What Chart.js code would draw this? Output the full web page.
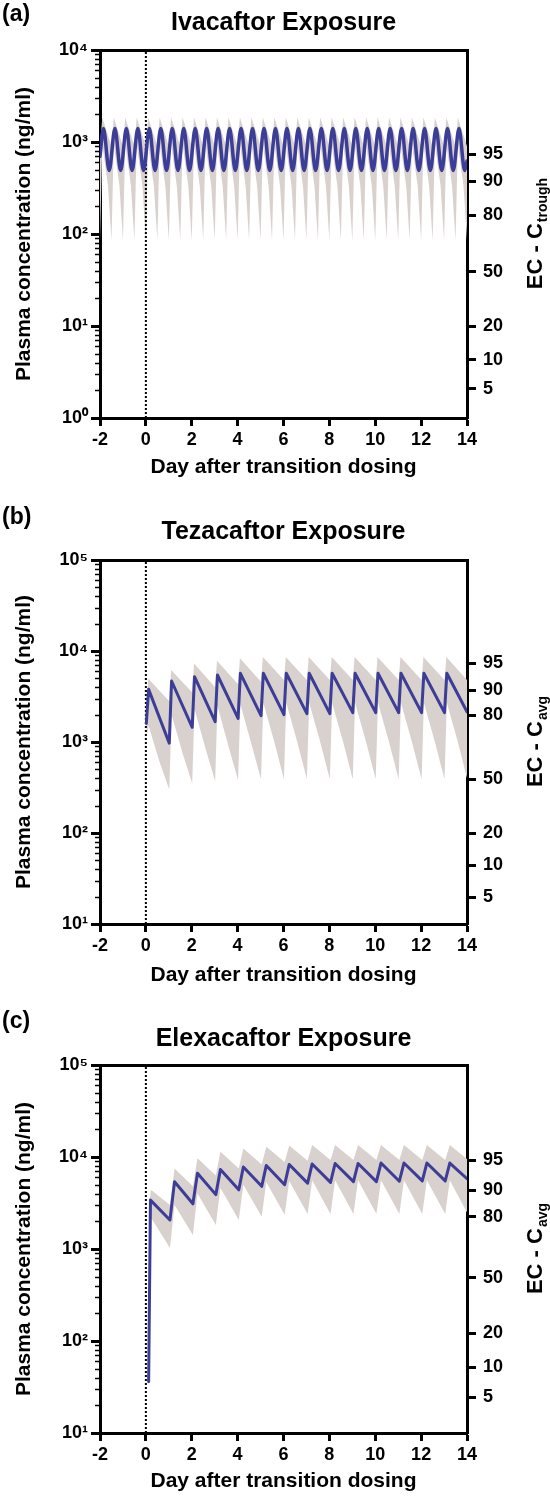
<!DOCTYPE html>
<html>
<head>
<meta charset="utf-8">
<script src="https://cdn.jsdelivr.net/npm/chart.js@4.4.1/dist/chart.umd.min.js"></script>
<style>
  html, body { margin: 0; padding: 0; background: #fff; }
  #page { position: relative; width: 550px; height: 1496px; }
  canvas { position: absolute; left: 0; }
</style>
</head>
<body>
<div id="page">
  <canvas id="chartA" width="550" height="495" style="top:0px"></canvas>
  <canvas id="chartB" width="550" height="500" style="top:495px"></canvas>
  <canvas id="chartC" width="550" height="501" style="top:995px"></canvas>
</div>
<script>
// ---- axis ticks / labels ----
const dayTicks = [-2, 0, 2, 4, 6, 8, 10, 12, 14]
const decadeValues = [1, 10, 100, 1000, 10000, 100000]
const decadeLabels = ['10⁰', '10¹', '10²', '10³', '10⁴', '10⁵']
const ecLabels = ['95', '90', '80', '50', '20', '10', '5']
// concentration level that each EC percentile label sits on
const ivaEcLevels = [736, 373, 159, 39, 10, 4.3, 2.07]
const tezEcLevels = [7380, 3726, 1980, 392, 100, 44, 19.8]
const elxEcLevels = [9270, 4375, 2228, 484, 122, 52, 24.6]

// ---- Ivacaftor (q12h) : [day, ng/ml] ----
const ivaMedian = [
  [-2,700],[-1.85,1400],[-1.6,490],[-1.35,1400],[-1.1,490],[-0.85,1400],[-0.6,490],[-0.35,1400],[-0.1,490],
  [0.15,1400],[0.4,490],[0.65,1400],[0.9,490],[1.15,1400],[1.4,490],[1.65,1400],[1.9,490],
  [2.15,1400],[2.4,490],[2.65,1400],[2.9,490],[3.15,1400],[3.4,490],[3.65,1400],[3.9,490],
  [4.15,1400],[4.4,490],[4.65,1400],[4.9,490],[5.15,1400],[5.4,490],[5.65,1400],[5.9,490],
  [6.15,1400],[6.4,490],[6.65,1400],[6.9,490],[7.15,1400],[7.4,490],[7.65,1400],[7.9,490],
  [8.15,1400],[8.4,490],[8.65,1400],[8.9,490],[9.15,1400],[9.4,490],[9.65,1400],[9.9,490],
  [10.15,1400],[10.4,490],[10.65,1400],[10.9,490],[11.15,1400],[11.4,490],[11.65,1400],[11.9,490],
  [12.15,1400],[12.4,490],[12.65,1400],[12.9,490],[13.15,1400],[13.4,490],[13.65,1400],[13.9,490],[14,620]
]
const ivaUpper = [
  [-2,900],[-1.9,1850],[-1.5,900],[-1.4,1850],[-1,900],[-0.9,1850],[-0.5,900],[-0.4,1850],
  [0,900],[0.1,1850],[0.5,900],[0.6,1850],[1,900],[1.1,1850],[1.5,900],[1.6,1850],
  [2,900],[2.1,1850],[2.5,900],[2.6,1850],[3,900],[3.1,1850],[3.5,900],[3.6,1850],
  [4,900],[4.1,1850],[4.5,900],[4.6,1850],[5,900],[5.1,1850],[5.5,900],[5.6,1850],
  [6,900],[6.1,1850],[6.5,900],[6.6,1850],[7,900],[7.1,1850],[7.5,900],[7.6,1850],
  [8,900],[8.1,1850],[8.5,900],[8.6,1850],[9,900],[9.1,1850],[9.5,900],[9.6,1850],
  [10,900],[10.1,1850],[10.5,900],[10.6,1850],[11,900],[11.1,1850],[11.5,900],[11.6,1850],
  [12,900],[12.1,1850],[12.5,900],[12.6,1850],[13,900],[13.1,1850],[13.5,900],[13.6,1850],[14,900]
]
const ivaLower = [
  [-2,85],[-1.9,950],[-1.65,330],[-1.5,85],[-1.4,950],[-1.15,330],[-1,85],[-0.9,950],[-0.65,330],[-0.5,85],[-0.4,950],[-0.15,330],
  [0,85],[0.1,950],[0.35,330],[0.5,85],[0.6,950],[0.85,330],[1,85],[1.1,950],[1.35,330],[1.5,85],[1.6,950],[1.85,330],
  [2,85],[2.1,950],[2.35,330],[2.5,85],[2.6,950],[2.85,330],[3,85],[3.1,950],[3.35,330],[3.5,85],[3.6,950],[3.85,330],
  [4,85],[4.1,950],[4.35,330],[4.5,85],[4.6,950],[4.85,330],[5,85],[5.1,950],[5.35,330],[5.5,85],[5.6,950],[5.85,330],
  [6,85],[6.1,950],[6.35,330],[6.5,85],[6.6,950],[6.85,330],[7,85],[7.1,950],[7.35,330],[7.5,85],[7.6,950],[7.85,330],
  [8,85],[8.1,950],[8.35,330],[8.5,85],[8.6,950],[8.85,330],[9,85],[9.1,950],[9.35,330],[9.5,85],[9.6,950],[9.85,330],
  [10,85],[10.1,950],[10.35,330],[10.5,85],[10.6,950],[10.85,330],[11,85],[11.1,950],[11.35,330],[11.5,85],[11.6,950],[11.85,330],
  [12,85],[12.1,950],[12.35,330],[12.5,85],[12.6,950],[12.85,330],[13,85],[13.1,950],[13.35,330],[13.5,85],[13.6,950],[13.85,330],
  [14,85]
]

// ---- Tezacaftor (q24h from day 0) ----
const tezMedian = [
  [0.02,1600],[0.12,3790],[1.02,970],[1.12,4680],[2.02,1450],[2.12,5220],[3.02,1670],[3.12,5450],
  [4.02,1820],[4.12,5690],[5.02,1950],[5.12,5700],[6.02,2000],[6.12,5700],[7.02,2050],[7.12,5700],
  [8.02,2050],[8.12,5700],[9.02,2100],[9.12,5700],[10.02,2100],[10.12,5700],[11.02,2100],[11.12,5700],
  [12.02,2100],[12.12,5700],[13.02,2100],[13.12,5700],[14,2150]
]
const tezUpper = [
  [0.02,2600],[0.1,5000],[1.02,2800],[1.1,6200],[2.02,3500],[2.1,7300],[3.02,4000],[3.1,7800],
  [4.02,4300],[4.1,8300],[5.02,4600],[5.1,8600],[6.02,4800],[6.1,8600],[7.02,4800],[7.1,8600],
  [8.02,4800],[8.1,8600],[9.02,4800],[9.1,8600],[10.02,4800],[10.1,8600],[11.02,4800],[11.1,8600],
  [12.02,4800],[12.1,8600],[13.02,4800],[13.1,8600],[14,4800]
]
const tezLower = [
  [0.02,1100],[0.12,1500],[0.6,600],[1.02,300],[1.12,2000],[1.6,750],[2.02,350],[2.12,2300],[2.6,850],
  [3.02,370],[3.12,2500],[3.6,900],[4.02,380],[4.12,2600],[4.6,950],[5.02,390],[5.12,2700],[5.6,1000],
  [6.02,390],[6.12,2700],[6.6,1000],[7.02,390],[7.12,2700],[7.6,1000],[8.02,390],[8.12,2700],[8.6,1000],
  [9.02,390],[9.12,2700],[9.6,1000],[10.02,390],[10.12,2700],[10.6,1000],[11.02,390],[11.12,2700],[11.6,1000],
  [12.02,390],[12.12,2700],[12.6,1000],[13.02,390],[13.12,2700],[13.6,1000],[14,400]
]

// ---- Elexacaftor (q24h from day 0) ----
const elxMedian = [
  [0.12,36],[0.2,3400],[1.05,2070],[1.25,5390],[2.05,3100],[2.25,6650],[3.05,3900],[3.25,7300],
  [4.05,4400],[4.25,7800],[5.05,4800],[5.25,8100],[6.05,5000],[6.25,8300],[7.05,5200],[7.25,8400],
  [8.05,5300],[8.25,8500],[9.05,5400],[9.25,8500],[10.05,5400],[10.25,8600],[11.05,5450],[11.25,8600],
  [12.05,5500],[12.25,8600],[13.05,5500],[13.25,8600],[14,5800]
]
const elxUpper = [
  [0.12,2600],[0.22,4400],[1.05,3000],[1.25,7500],[2.05,4800],[2.25,9700],[3.05,6300],[3.25,11400],
  [4.05,7500],[4.25,12400],[5.05,8300],[5.25,12900],[6.05,8800],[6.25,13300],[7.05,9100],[7.25,13500],
  [8.05,9300],[8.25,13500],[9.05,9300],[9.25,13500],[10.05,9300],[10.25,13500],[11.05,9300],[11.25,13500],
  [12.05,9300],[12.25,13500],[13.05,9300],[13.25,13500],[14,9500]
]
const elxLower = [
  [0.12,1500],[0.22,2200],[1.05,1025],[1.25,3000],[2.05,1420],[2.25,4000],[3.05,1820],[3.25,4600],
  [4.05,2070],[4.25,5000],[5.05,2240],[5.25,5300],[6.05,2350],[6.25,5500],[7.05,2400],[7.25,5600],
  [8.05,2400],[8.25,5600],[9.05,2400],[9.25,5600],[10.05,2400],[10.25,5600],[11.05,2400],[11.25,5600],
  [12.05,2400],[12.25,5600],[13.05,2400],[13.25,5600],[14,2500]
]

const BLUE = '#3b3d97'
const BAND = '#d9d1ce'
const FONT = '"Liberation Sans", Arial, Helvetica, sans-serif'

Chart.defaults.font.family = FONT
Chart.defaults.font.weight = 'bold'
Chart.defaults.color = '#000'

// panel letter, short minor ticks on the left axis, and the right axis title (needs a subscript)
const panelText = {
  id: 'panelText',
  afterDraw(chart, args, opts) {
    const { ctx, chartArea } = chart
    const y = chart.scales.y
    ctx.save()
    ctx.strokeStyle = '#000'
    ctx.lineWidth = 1.5
    y.ticks.forEach(t => {
      if (decadeValues.includes(t.value)) return
      const py = Math.round(y.getPixelForValue(t.value)) + 0.5
      ctx.beginPath()
      ctx.moveTo(chartArea.left, py)
      ctx.lineTo(chartArea.left - 5, py)
      ctx.stroke()
    })

    ctx.fillStyle = '#000'
    ctx.textBaseline = 'middle'
    ctx.textAlign = 'left'
    ctx.font = 'bold 23px ' + FONT
    ctx.fillText(opts.tag, 2, opts.tagY)

    const cy = (chartArea.top + chartArea.bottom) / 2
    ctx.translate(536, cy)
    ctx.rotate(-Math.PI / 2)
    ctx.font = 'bold 22px ' + FONT
    const w1 = ctx.measureText('EC - C').width
    ctx.font = 'bold 14px ' + FONT
    const w2 = ctx.measureText(opts.sub).width
    const x0 = -(w1 + w2) / 2
    ctx.font = 'bold 22px ' + FONT
    ctx.fillText('EC - C', x0, 0)
    ctx.font = 'bold 14px ' + FONT
    ctx.fillText(opts.sub, x0 + w1 + 1, 7)
    ctx.restore()
  }
}

function logTicks(min, max) {
  const out = []
  for (let base = min; base < max; base *= 10)
    for (let m = 1; m < 10; m++) out.push({ value: m * base })
  out.push({ value: max })
  return out
}

const axisBorder = { color: '#000', width: 3 }

function buildChart(id, p) {
  return new Chart(document.getElementById(id), {
    type: 'line',
    data: {
      datasets: [
        { data: p.upper, fill: '+1', backgroundColor: BAND, borderColor: 'rgba(0,0,0,0)', borderWidth: 1, pointRadius: 0, order: 3 },
        { data: p.lower, fill: false, borderColor: 'rgba(0,0,0,0)', borderWidth: 1, pointRadius: 0, order: 3 },
        { data: [[0, p.yMin], [0, p.yMax]], borderColor: '#000', borderWidth: 2, borderDash: [2, 2], pointRadius: 0, order: 2 },
        { data: p.median, borderColor: BLUE, borderWidth: p.lineWidth, pointRadius: 0, order: 1,
          cubicInterpolationMode: p.smooth ? 'monotone' : 'default', borderJoinStyle: 'round', borderCapStyle: 'round' }
      ]
    },
    options: {
      responsive: false,
      animation: false,
      devicePixelRatio: 1,
      layout: { padding: 0 },
      plugins: {
        legend: { display: false },
        tooltip: { enabled: false },
        title: {
          display: true, text: p.title, fullSize: false, color: '#000',
          font: { size: 25, weight: 'bold' },
          padding: { top: p.titleTop, bottom: p.titleBottom }
        },
        panelText: { tag: p.tag, tagY: p.tagY, sub: p.sub }
      },
      scales: {
        x: {
          type: 'linear', min: -2, max: 14,
          afterBuildTicks: s => { s.ticks = dayTicks.map(v => ({ value: v })) },
          ticks: { font: { size: 18 }, padding: 3, maxRotation: 0, autoSkip: false },
          grid: { drawOnChartArea: false, tickLength: 8, tickWidth: 3, tickColor: '#000' },
          border: axisBorder,
          title: { display: true, text: 'Day after transition dosing', font: { size: 21 }, padding: { top: 0, bottom: p.xTitlePad } },
          afterFit: s => { s.height = p.xHeight }
        },
        xTop: {
          type: 'linear', position: 'top', min: -2, max: 14,
          ticks: { display: false },
          grid: { drawOnChartArea: false, drawTicks: false },
          border: axisBorder,
          afterFit: s => { s.height = 0 }
        },
        y: {
          type: 'logarithmic', position: 'left', min: p.yMin, max: p.yMax,
          afterBuildTicks: s => { s.ticks = logTicks(p.yMin, p.yMax) },
          ticks: {
            font: { size: 18 }, padding: 3, autoSkip: false,
            callback: v => { const i = decadeValues.indexOf(v); return i < 0 ? '' : decadeLabels[i] }
          },
          grid: {
            drawOnChartArea: false, tickLength: 9,
            tickWidth: 3,
            tickColor: c => (c.tick && decadeValues.includes(c.tick.value)) ? '#000' : 'rgba(0,0,0,0)'
          },
          border: axisBorder,
          title: { display: true, text: 'Plasma concentration (ng/ml)', font: { size: 21 }, padding: { top: 12, bottom: 0 } },
          afterFit: s => { s.width = 100 }
        },
        ec: {
          type: 'logarithmic', position: 'right', min: p.yMin, max: p.yMax,
          afterBuildTicks: s => { s.ticks = p.ecLevels.map(v => ({ value: v })) },
          ticks: { font: { size: 18 }, padding: 7, autoSkip: false, callback: (v, i) => ecLabels[i] },
          grid: { drawOnChartArea: false, tickLength: 9, tickWidth: 3, tickColor: '#000' },
          border: axisBorder,
          afterFit: s => { s.width = 83 }
        }
      }
    },
    plugins: [panelText]
  })
}

buildChart('chartA', {
  title: 'Ivacaftor Exposure', tag: '(a)', tagY: 15, sub: 'trough',
  titleTop: 8.5, titleBottom: 11.5, xHeight: 77, xTitlePad: 15.4,
  yMin: 1, yMax: 10000, ecLevels: ivaEcLevels,
  median: ivaMedian, upper: ivaUpper, lower: ivaLower, smooth: true, lineWidth: 3.5
})
buildChart('chartB', {
  title: 'Tezacaftor Exposure', tag: '(b)', tagY: 22.5, sub: 'avg',
  titleTop: 21.7, titleBottom: 13.3, xHeight: 71, xTitlePad: 7.4,
  yMin: 10, yMax: 100000, ecLevels: tezEcLevels,
  median: tezMedian, upper: tezUpper, lower: tezLower, smooth: false, lineWidth: 3
})
buildChart('chartC', {
  title: 'Elexacaftor Exposure', tag: '(c)', tagY: 26.7, sub: 'avg',
  titleTop: 29, titleBottom: 11, xHeight: 63, xTitlePad: 1.7,
  yMin: 10, yMax: 100000, ecLevels: elxEcLevels,
  median: elxMedian, upper: elxUpper, lower: elxLower, smooth: false, lineWidth: 3
})
</script>
</body>
</html>
